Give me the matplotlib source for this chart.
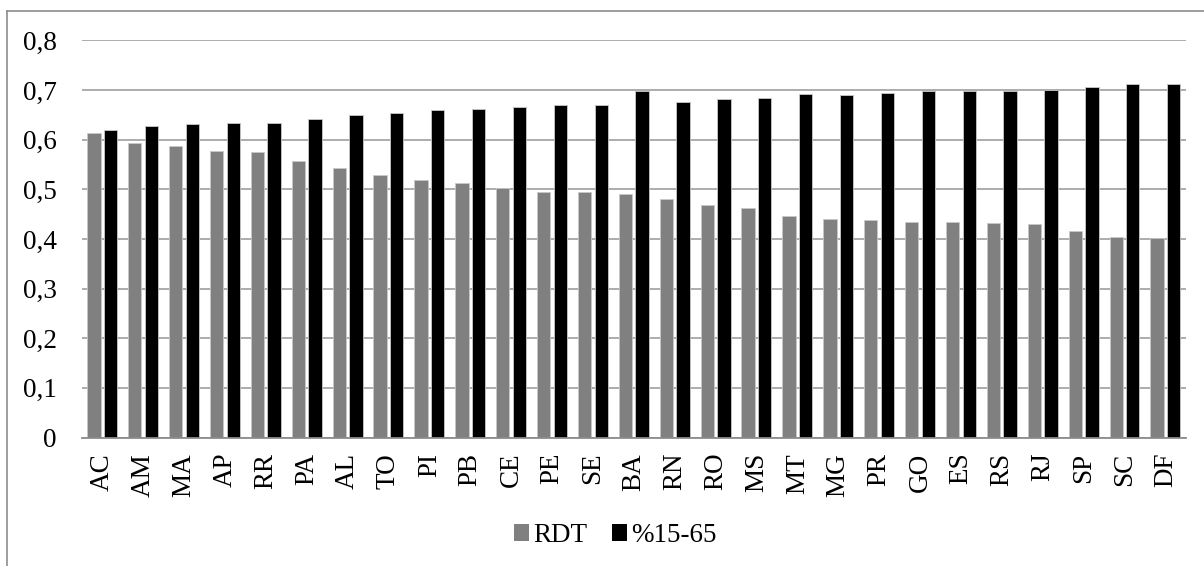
import matplotlib
matplotlib.use("Agg")
import matplotlib.pyplot as plt
from matplotlib.patches import Patch
from matplotlib.lines import Line2D
import numpy as np

estados = ['AC', 'AM', 'MA', 'AP', 'RR', 'PA', 'AL', 'TO', 'PI', 'PB', 'CE', 'PE', 'SE', 'BA',
           'RN', 'RO', 'MS', 'MT', 'MG', 'PR', 'GO', 'ES', 'RS', 'RJ', 'SP', 'SC', 'DF']
rdt = [0.614, 0.594, 0.587, 0.577, 0.575, 0.558, 0.543, 0.529, 0.518, 0.512, 0.503, 0.494, 0.494, 0.490,
       0.481, 0.469, 0.463, 0.446, 0.441, 0.439, 0.435, 0.434, 0.433, 0.431, 0.416, 0.404, 0.402]
pop_15_65 = [0.619, 0.628, 0.631, 0.634, 0.634, 0.642, 0.649, 0.654, 0.659, 0.661, 0.665, 0.669, 0.669, 0.699,
             0.675, 0.681, 0.683, 0.693, 0.691, 0.695, 0.698, 0.698, 0.698, 0.700, 0.706, 0.712, 0.713]
yticks = [0, 0.1, 0.2, 0.3, 0.4, 0.5, 0.6, 0.7, 0.8]

plt.rcParams['font.family'] = ['Liberation Serif', 'DejaVu Serif']
fs = 19.5

fig = plt.figure(figsize=(12.04, 5.66), dpi=100)
ax = fig.add_axes([0.0679, 0.227, 0.917, 0.7016])

x = np.arange(len(estados))
w = 0.325
ax.bar(x - 0.2035, rdt, width=w, color='#808080', edgecolor='#c8c8c8', linewidth=0.6, zorder=3)
ax.bar(x + 0.2035, pop_15_65, width=w, color='#000000', edgecolor='#c8c8c8', linewidth=0.6, zorder=3)

ax.set_xlim(-0.5, len(estados) - 0.5)
ax.set_ylim(0, 0.8)
ax.set_yticks(yticks)
ax.set_yticklabels([('%g' % v).replace('.', ',') for v in yticks], fontsize=fs)
ax.set_xticks(x)
ax.set_xticklabels(estados, rotation=90, fontsize=fs)
ax.tick_params(axis='y', length=0, pad=18)
ax.tick_params(axis='x', length=0, pad=11)
ax.grid(axis='y', color='#a6a6a6', linewidth=1.3, zorder=0)
for s in ['top', 'right', 'left']:
    ax.spines[s].set_visible(False)
ax.spines['bottom'].set_color('#8c8c8c')
ax.spines['bottom'].set_linewidth(1.3)
ax.spines['bottom'].set_zorder(4)

# borda da area do grafico (so topo e esquerda aparecem)
fig.add_artist(Line2D([7 / 1204, 1.0], [1 - 11 / 566, 1 - 11 / 566], color='#8c8c8c', linewidth=1.2))
fig.add_artist(Line2D([7 / 1204, 7 / 1204], [0.0, 1 - 11 / 566], color='#8c8c8c', linewidth=1.2))

handles = [Patch(facecolor='#808080'), Patch(facecolor='#000000')]
fig.legend(handles, ['RDT', '%15-65'], loc='center', bbox_to_anchor=(0.511, 0.054), ncol=2,
           frameon=False, fontsize=fs, handlelength=0.55, handleheight=0.55, handletextpad=0.15,
           columnspacing=0.9)

fig.savefig('out.png', dpi=100)
